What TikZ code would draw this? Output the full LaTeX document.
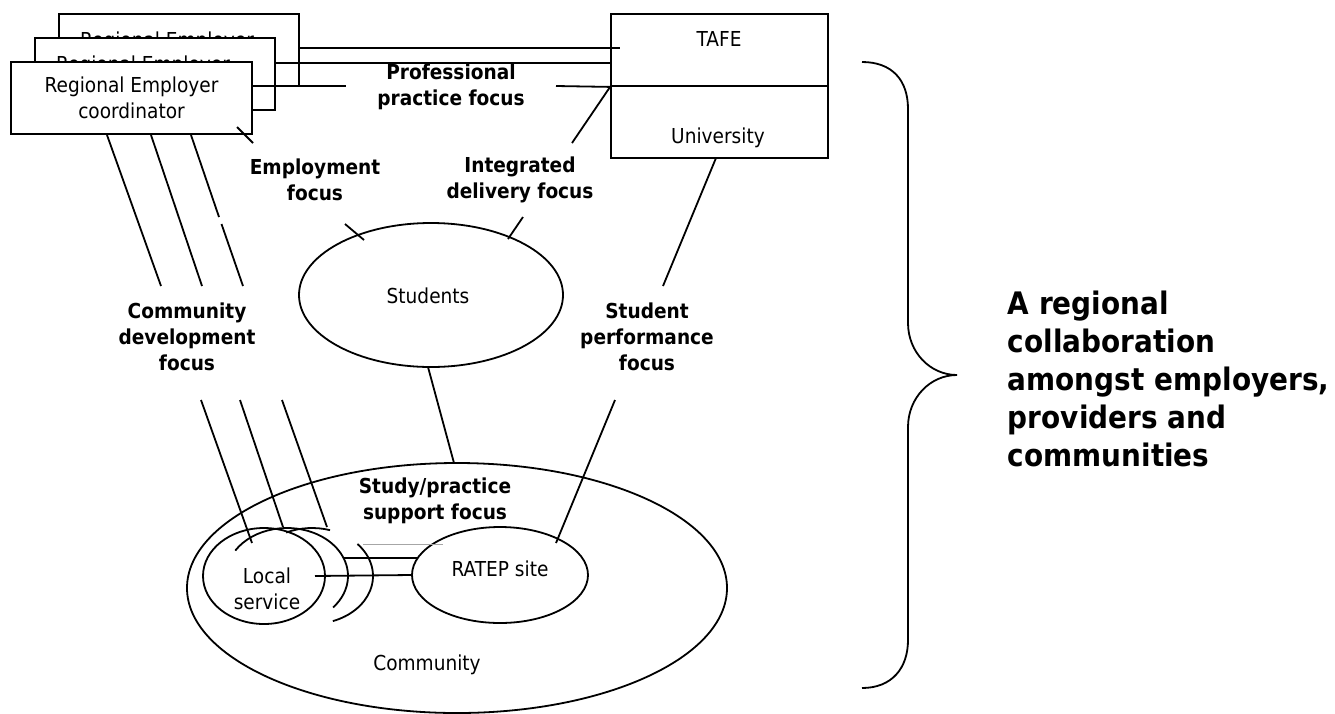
\documentclass[tikz,border=0pt]{standalone}
\usepackage{fontspec}
\setmainfont{DejaVu Sans}[FakeStretch=0.9]
\usetikzlibrary{shapes.geometric}
\begin{document}
\begin{tikzpicture}[x=1pt,y=-1pt,line width=1.8pt,
  box/.style={draw,fill=white,rectangle,inner sep=0pt},
  oval/.style={draw,ellipse,inner sep=0pt},
  plain/.style={font=\fontsize{20.6}{25.5}\selectfont,align=center,inner sep=0pt},
  focus/.style={font=\fontsize{20.6}{26}\selectfont\bfseries,align=center,inner sep=0pt},
  big/.style={font=\fontsize{31}{38}\selectfont\bfseries,align=left,inner sep=0pt,anchor=west},
  faint/.style={draw=gray!70,line width=0.7pt}]
\useasboundingbox (0,0) rectangle (1335,713);

% stacked employer coordinator boxes
\node[box,minimum width=240pt,minimum height=72pt] (emp1) at (179,50) {};
\node[plain] (emp1t) at (167,42) {Regional Employer};
\node[box,minimum width=240pt,minimum height=72pt] (emp2) at (155,74) {};
\node[plain] (emp2t) at (143,66) {Regional Employer};
\node[box,plain,draw,fill=white,minimum width=241pt,minimum height=72pt] (emp3) at (131.5,98) {Regional Employer\\coordinator};

% providers
\node[box,minimum width=217pt,minimum height=72pt] (tafe) at (719.5,50) {};
\node[box,minimum width=217pt,minimum height=72pt] (uni) at (719.5,122) {};
\node[plain] (tafet) at (719,38.5) {TAFE};
\node[plain] (unit) at (718,138) {University};

% community, students and sites
\node[oval,minimum width=540pt,minimum height=250pt] (comm) at (457,588) {};
\node[plain] (commt) at (427,665) {Community};
\node[oval,plain,minimum width=264pt,minimum height=144pt] (stud) at (431,295) {};
\node[plain] (studt) at (428,296) {Students};
\node[oval,minimum width=176pt,minimum height=96pt] (ratep) at (500,575) {};
\node[plain] (ratept) at (500,569) {RATEP site};
\node[oval,minimum width=122pt,minimum height=96pt] (loc1) at (264,576) {};
\node[plain] (loct) at (267,589) {Local\\service};
\coordinate (loc2) at (287,576);
\coordinate (loc3) at (312,576);
\draw ([shift={(-148:61 and 48)}]loc2) arc[start angle=-148,end angle=41,x radius=61,y radius=48];
\draw ([shift={(-115:61 and 48)}]loc3) arc[start angle=-115,end angle=-72.8,x radius=61,y radius=48];
\draw ([shift={(-41.8:61 and 48)}]loc3) arc[start angle=-41.8,end angle=70,x radius=61,y radius=48];

% focus labels
\node[focus] (prof) at (451,87) {Professional\\practice focus};
\node[focus] (empf) at (315,180) {Employment\\focus};
\node[focus] (intf) at (520,180) {Integrated\\delivery focus};
\node[focus] (cdf) at (187,337) {Community\\development\\focus};
\node[focus] (spf) at (647,337) {Student\\performance\\focus};
\node[focus] (stf) at (435,501) {Study/practice\\support focus};
\node[big] (coll) at (1007,379) {A regional\\collaboration\\amongst employers,\\providers and\\communities};

% professional practice links
\coordinate (pa1) at (299,47.7); \coordinate (pa2) at (620,47.7);
\coordinate (pb1) at (275,63);   \coordinate (pb2) at (611,63);
\coordinate (pc1) at (252,86);   \coordinate (pc2) at (346,86);
\coordinate (pc3) at (556,86);
\draw (pa1) -- (pa2);
\draw (pb1) -- (pb2);
\draw (pc1) -- (pc2);
\draw (pc3) -- (tafe.south west);

% employment link
\coordinate (ea) at (237,127); \coordinate (eb) at (253,143);
\coordinate (ec) at (345,224); \coordinate (ed) at (364,240);
\draw (ea) -- (eb);
\draw (ec) -- (ed);

% integrated delivery link
\coordinate (ia) at (572,143); \coordinate (ib) at (523,217); \coordinate (ic) at (508,239);
\draw (tafe.south west) -- (ia);
\draw (ib) -- (ic);

% student performance link
\coordinate (sa) at (716,158); \coordinate (sb) at (663,286);
\coordinate (sc) at (615,400); \coordinate (sd) at (556,543);
\draw (sa) -- (sb);
\draw (sc) -- (sd);

% students to community
\coordinate (ta) at (428,367); \coordinate (tb) at (454,463);
\draw (ta) -- (tb);

% community development links
\coordinate (c1a) at (107,135); \coordinate (c1b) at (161,286);
\coordinate (c1c) at (201,400); \coordinate (c1d) at (252,543);
\coordinate (c2a) at (151,135); \coordinate (c2b) at (202,286);
\coordinate (c2c) at (240,400); \coordinate (c2d) at (283,527);
\coordinate (c3a) at (191,135); \coordinate (c3b) at (219,217);
\coordinate (c3c) at (221.5,224); \coordinate (c3d) at (243,286);
\coordinate (c3e) at (282,400); \coordinate (c3f) at (327,527);
\draw (c1a) -- (c1b); \draw (c1c) -- (c1d);
\draw (c2a) -- (c2b); \draw (c2c) -- (c2d);
\draw (c3a) -- (c3b); \draw (c3c) -- (c3d); \draw (c3e) -- (c3f);

% local service to RATEP site
\coordinate (ra) at (344,558); \coordinate (rb) at (417,558);
\coordinate (rc) at (315,576);
\draw (ra) -- (rb);
\draw (rc) -- (ratep.west);
\coordinate (ga) at (363,544); \coordinate (gb) at (443,544);
\draw[faint] (ga) -- (gb);

% brace
\coordinate (bt) at (862,62); \coordinate (bm) at (957,375); \coordinate (bb) at (862,688);
\draw (bt) .. controls (892,62) and (908,80) .. (908,109) -- (908,323)
  .. controls (908,352) and (930,375) .. (bm)
  .. controls (930,375) and (908,398) .. (908,427) -- (908,640)
  .. controls (908,668) and (892,688) .. (bb);
\end{tikzpicture}
\end{document}
